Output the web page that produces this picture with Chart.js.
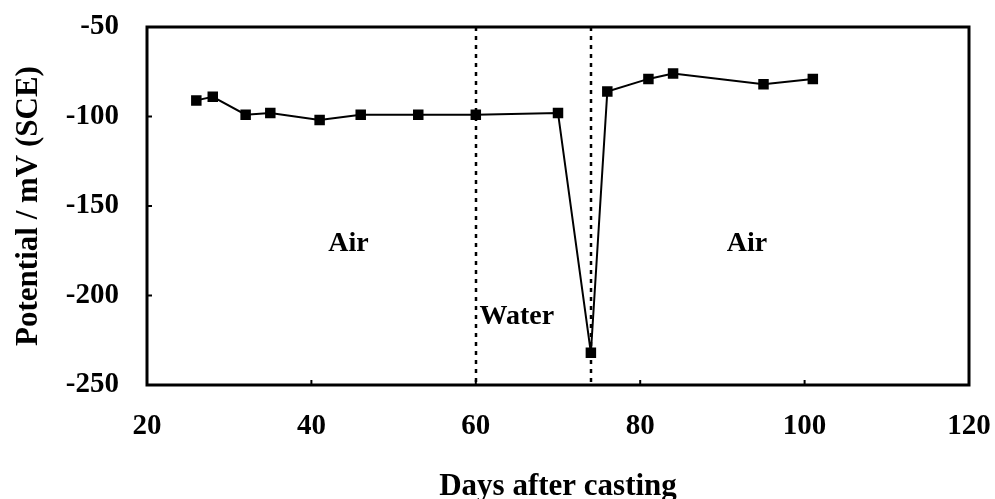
<!DOCTYPE html>
<html>
<head>
<meta charset="utf-8">
<script src="https://cdn.jsdelivr.net/npm/chart.js@4/dist/chart.umd.min.js"></script>
<style>
    html, body { margin: 0; padding: 0; background: #fff; }
    #wrap { width: 995px; height: 499px; }
</style>
</head>
<body>
<div id="wrap"><canvas id="chart"></canvas></div>
<script>
const days = [26, 28, 32, 35, 41, 46, 53, 60, 70, 74, 76, 81, 84, 95, 101];
const potential = [-91, -89, -99, -98, -102, -99, -99, -99, -98, -232, -86, -79, -76, -82, -79];

const xTicks = [20, 40, 60, 80, 100, 120];
const yTicks = [-50, -100, -150, -200, -250];

// exposure changes (days) and region labels (day, mV)
const switchDays = [60, 74];
const regionLabels = ["Air", "Water", "Air"];
const regionDays = [44.5, 65, 93];
const regionValues = [-171, -212, -171];

const FONT = "'Liberation Serif', 'Times New Roman', serif";

const framePlugin = {
    id: "frame",
    afterDatasetsDraw(chart) {
        const { ctx, chartArea: a, scales: { x, y } } = chart;
        ctx.save();

        // dotted separators
        ctx.strokeStyle = "#000";
        ctx.lineWidth = 2.5;
        ctx.setLineDash([4, 5]);
        switchDays.forEach((d) => {
            const px = Math.round(x.getPixelForValue(d));
            ctx.beginPath();
            ctx.moveTo(px, a.top);
            ctx.lineTo(px, a.bottom);
            ctx.stroke();
        });
        ctx.setLineDash([]);

        // inward ticks
        ctx.lineWidth = 2;
        xTicks.forEach((v) => {
            const px = x.getPixelForValue(v);
            ctx.beginPath();
            ctx.moveTo(px, a.bottom);
            ctx.lineTo(px, a.bottom - 5);
            ctx.stroke();
        });
        yTicks.forEach((v) => {
            const py = y.getPixelForValue(v);
            ctx.beginPath();
            ctx.moveTo(a.left, py);
            ctx.lineTo(a.left + 5, py);
            ctx.stroke();
        });

        // box
        ctx.lineWidth = 3;
        ctx.strokeRect(a.left, a.top, a.right - a.left, a.bottom - a.top);

        // region labels
        ctx.fillStyle = "#000";
        ctx.font = "bold 28px " + FONT;
        ctx.textAlign = "center";
        ctx.textBaseline = "middle";
        regionLabels.forEach((t, i) => {
            ctx.fillText(t, x.getPixelForValue(regionDays[i]), y.getPixelForValue(regionValues[i]));
        });
        ctx.restore();
    }
};

new Chart(document.getElementById("chart"), {
    type: "scatter",
    data: {
        datasets: [{
            data: days.map((d, i) => ({ x: d, y: potential[i] })),
            showLine: true,
            borderColor: "#000",
            backgroundColor: "#000",
            borderWidth: 2,
            pointStyle: "rect",
            pointRadius: 6,
            tension: 0
        }]
    },
    options: {
        responsive: true,
        maintainAspectRatio: false,
        animation: false,
        layout: { padding: { top: 27, right: 26, left: 0, bottom: 0 } },
        plugins: { legend: { display: false }, tooltip: { enabled: false } },
        scales: {
            x: {
                type: "linear",
                min: 20,
                max: 120,
                afterBuildTicks: (s) => { s.ticks = xTicks.map((v) => ({ value: v })); },
                afterFit: (s) => { s.height = 114; s.paddingLeft = 0; s.paddingRight = 0; },
                grid: { display: false },
                border: { display: false },
                ticks: { color: "#000", padding: 16, font: { family: FONT, size: 29, weight: "bold" } },
                title: {
                    display: true,
                    text: "Days after casting",
                    color: "#000",
                    padding: { top: 0, bottom: -3 },
                    font: { family: FONT, size: 31, weight: "bold", lineHeight: 1 }
                }
            },
            y: {
                min: -250,
                max: -50,
                afterBuildTicks: (s) => { s.ticks = yTicks.map((v) => ({ value: v })); },
                afterFit: (s) => { s.width = 147; s.paddingTop = 0; s.paddingBottom = 0; },
                grid: { display: false },
                border: { display: false },
                ticks: { color: "#000", padding: 20, font: { family: FONT, size: 29, weight: "bold" } },
                title: {
                    display: true,
                    text: "Potential / mV (SCE)",
                    color: "#000",
                    padding: { top: 13, bottom: 0 },
                    font: { family: FONT, size: 31, weight: "bold", lineHeight: 1 }
                }
            }
        }
    },
    plugins: [framePlugin]
});
</script>
</body>
</html>
